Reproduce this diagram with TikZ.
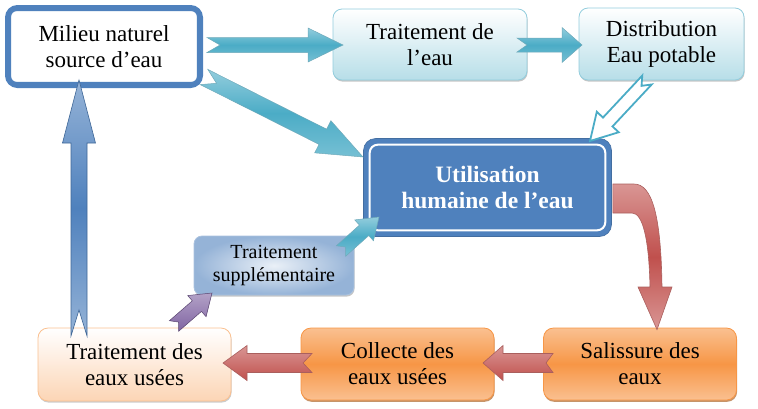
\documentclass[tikz,border=0pt]{standalone}
\usepackage{fontspec}
\setmainfont{Liberation Serif}
\usetikzlibrary{calc,shadows}
\definecolor{blueA}{HTML}{4F81BD}
\definecolor{blueL}{HTML}{95B3D7}
\definecolor{blueLL}{HTML}{DCE6F2}
\definecolor{tealA}{HTML}{4BACC6}
\definecolor{tealL}{HTML}{93CDDD}
\definecolor{tealLL}{HTML}{B7DEE8}
\definecolor{tealD}{HTML}{31859C}
\definecolor{redA}{HTML}{C0504D}
\definecolor{redL}{HTML}{D99694}
\definecolor{redD}{HTML}{953735}
\definecolor{orangeA}{HTML}{F79646}
\definecolor{orangeL}{HTML}{FAC090}
\definecolor{orangeLL}{HTML}{FCD5B5}
\definecolor{orangeD}{HTML}{E46C0A}
\definecolor{purpleA}{HTML}{8064A2}
\definecolor{purpleL}{HTML}{B3A2C7}
\newcommand\fatarrow[7]{%
  \coordinate (faC) at ($(#3)!#6pt!(#2)$);
  \coordinate (faN) at ($(#2)!#7pt!(#3)$);
  \path[#1] ($(#2)!#4pt!90:(#3)$) -- ($(faC)!#4pt!-90:(#2)$) -- ($(faC)!#5pt!-90:(#2)$) -- (#3)
    -- ($(faC)!#5pt!90:(#2)$) -- ($(faC)!#4pt!90:(#2)$) -- ($(#2)!#4pt!-90:(#3)$) -- (faN) -- cycle;
}
\tikzset{
  txt/.style={align=center, inner sep=0pt, font=\fontsize{23}{26}\selectfont},
  mbox/.style={txt, draw=blueA, line width=5pt, fill=white, rounded corners=10pt,
    minimum width=193pt, minimum height=78pt},
  tbox/.style={txt, draw=tealL, line width=0.8pt, rounded corners=9pt,
    top color=white, bottom color=tealLL,
    drop shadow={shadow xshift=0.6pt, shadow yshift=-1.6pt, opacity=0.45, fill=gray}},
  ubox/.style={txt, font=\fontsize{23.5}{26}\selectfont\bfseries, text=white, fill=blueA,
    draw=blueA!85!black, line width=0.6pt, rounded corners=12pt,
    minimum width=248pt, minimum height=98pt},
  sbox/.style={align=center, inner sep=0pt, font=\fontsize{20}{22.5}\selectfont,
    draw=blueL!80, line width=0.8pt, rounded corners=8pt,
    inner color=blueLL!60!white, outer color=blueL,
    minimum width=160pt, minimum height=59pt,
    drop shadow={shadow xshift=0.6pt, shadow yshift=-1.6pt, opacity=0.45, fill=gray}},
  ebox/.style={txt, draw=orangeL, line width=0.8pt, rounded corners=10pt,
    top color=white, bottom color=orangeLL,
    minimum width=193pt, minimum height=73pt,
    drop shadow={shadow xshift=0.6pt, shadow yshift=-1.6pt, opacity=0.4, fill=gray}},
  obox/.style={txt, draw=orangeA, line width=0.8pt, rounded corners=10pt,
    top color=orangeL, bottom color=orangeL, middle color=orangeA,
    minimum width=193pt, minimum height=72pt,
    drop shadow={shadow xshift=0.6pt, shadow yshift=-1.8pt, opacity=0.6, fill=orangeD!70!black}},
  tealarr/.style={top color=tealL, bottom color=tealL!60!tealA, middle color=tealA,
    draw=tealD!70, line width=0.5pt},
  outarr/.style={draw=tealA, line width=1.8pt, fill=white, line join=miter},
  redarr/.style={top color=redL, bottom color=redA, draw=redD!80, line width=0.6pt},
  credarr/.style={top color=redL, bottom color=redL, middle color=redA, draw=redD!80, line width=0.6pt},
  purarr/.style={top color=purpleL, bottom color=purpleA, draw=purpleA!70!black, line width=0.5pt},
  bluearr/.style={top color=blueL, bottom color=blueL, middle color=blueA, draw=blueA!80!black, line width=0.6pt},
}
\begin{document}
\begin{tikzpicture}[x=1pt,y=-1pt]
\useasboundingbox (0,0) rectangle (758,408);
% boxes
\node[mbox] (m) at (104,46.5) {Milieu naturel\\source d’eau};
\draw[blueA, line width=1.3pt, rounded corners=6pt] ($(m.south west)+(5.5,-5.5)$) rectangle ($(m.north east)+(-5.5,5.5)$);
\node[tbox, minimum width=194pt, minimum height=71pt] (t) at (430,44.5) {Traitement de\\l’eau};
\node[tbox, minimum width=165pt, minimum height=72pt] (d) at (661.5,44) {Distribution\\Eau potable};
\node[ubox] (u) at (487.5,187.5) {Utilisation\\humaine de l’eau};
\draw[white, line width=2pt, rounded corners=8pt] ($(u.south west)+(6.5,-6.5)$) rectangle ($(u.north east)+(-6.5,6.5)$);
\node[sbox] (s) at (274,265.5) {Traitement\\supplémentaire};
\node[ebox] (e) at (134.5,364.5) {Traitement des\\eaux usées};
\node[obox] (c) at (397.5,364) {Collecte des\\eaux usées};
\node[obox] (sa) at (640,364) {Salissure des\\eaux};
% arrow end points
\coordinate (a1t) at (207,45);   \coordinate (a1h) at (343,45);
\coordinate (a2t) at (517,45);   \coordinate (a2h) at (582,45);
\coordinate (a3t) at (204,77);   \coordinate (a3h) at (363,157);
\coordinate (a4t) at (647,80);   \coordinate (a4h) at (590,141);
\coordinate (a5t) at (341,251);  \coordinate (a5h) at (379,217);
\coordinate (a6t) at (174,326);  \coordinate (a6h) at (212,293);
\coordinate (a7t) at (312,363);  \coordinate (a7h) at (223,363);
\coordinate (a8t) at (553,363);  \coordinate (a8h) at (483,363);
\coordinate (a9t) at (79,336);   \coordinate (a9h) at (79,80);
% arrows
\fatarrow{tealarr}{a1t}{a1h}{7.5}{17}{35}{13}
\fatarrow{tealarr}{a2t}{a2h}{7}{17.5}{20}{10}
\fatarrow{tealarr}{a3t}{a3h}{8.5}{18}{45}{14}
\fatarrow{outarr}{a4t}{a4h}{6.5}{15}{26}{8}
\fatarrow{tealarr}{a5t}{a5h}{7}{14}{20}{6}
\fatarrow{purarr}{a6t}{a6h}{7}{14}{20}{6}
\fatarrow{redarr}{a7t}{a7h}{9.5}{17.5}{24}{9}
\fatarrow{redarr}{a8t}{a8h}{9.5}{17.5}{20}{7}
\fatarrow{bluearr}{a9t}{a9h}{8}{16.5}{63}{26}
% curved arrow from u to sa
\coordinate (cs) at (u.east);
\coordinate (ce) at (sa.north);
\path[credarr] ($(cs)+(1,-3.5)$) -- (634,184) .. controls (652,184) and (661,215) .. (662,287)
  -- (672,287) -- ($(ce)+(17,2)$) -- (638,287) -- (650,287)
  .. controls (649,240) and (643,213) .. (632,213) -- ($(cs)+(1,25.5)$) -- cycle;
\end{tikzpicture}
\end{document}
